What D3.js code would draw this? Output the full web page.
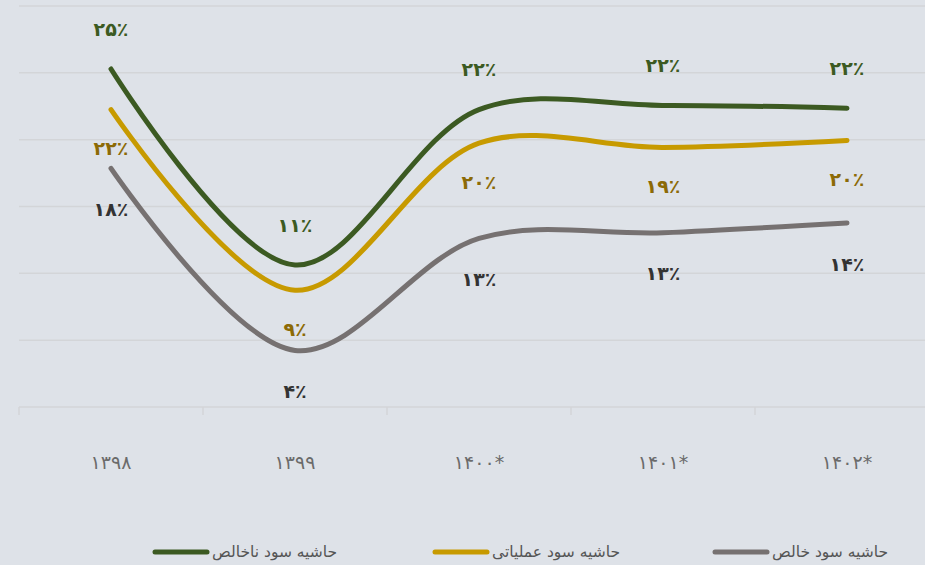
<!DOCTYPE html>
<html lang="fa">
<head>
<meta charset="utf-8">
<script src="https://d3js.org/d3.v7.min.js"></script>
<style>
  body { margin: 0; background: #dee2e8; }
  svg { display: block; }
  .grid line { stroke: #d3d5d8; stroke-width: 1.5px; }
  .xlab { font-family: "DejaVu Sans", sans-serif; font-size: 19px; fill: #6b6b6b; }
  .vlab { font-family: "DejaVu Sans", sans-serif; font-size: 19px; font-weight: bold; }
  .leg text { font-family: "DejaVu Sans", sans-serif; font-size: 15.5px; fill: #555; }
</style>
</head>
<body>
<div id="chart"></div>
<script>
// categories (years, Persian digits)
var years = ["۱۳۹۸", "۱۳۹۹", "۱۴۰۰*", "۱۴۰۱*", "۱۴۰۲*"];

// series values (percent)
var gross     = [25.0, 11.0, 22.1, 22.4, 22.2];
var operating = [22.1,  9.2, 19.7, 19.4, 19.9];
var net       = [17.9,  4.9, 12.9, 13.3, 14.0];

// data labels as printed on the chart
var grossLabels     = ["۲۵٪", "۱۱٪", "۲۲٪", "۲۲٪", "۲۲٪"];
var operatingLabels = ["۲۲٪", "۹٪", "۲۰٪", "۱۹٪", "۲۰٪"];
var netLabels       = ["۱۸٪", "۴٪", "۱۳٪", "۱۳٪", "۱۴٪"];

var seriesNames = ["حاشیه سود ناخالص", "حاشیه سود عملیاتی", "حاشیه سود خالص"];

var series = [
  {name: seriesNames[0], values: gross,     labels: grossLabels,     color: "#3c5a22", text: "#3c5a22", dy: -40},
  {name: seriesNames[1], values: operating, labels: operatingLabels, color: "#c79a00", text: "#8c6a06", dy: 39},
  {name: seriesNames[2], values: net,       labels: netLabels,       color: "#767171", text: "#333333", dy: 41}
];

var W = 925, H = 565;
var svg = d3.select("#chart").append("svg").attr("width", W).attr("height", H);

var x = d3.scaleBand().domain(years).range([19, 939]);
var y = d3.scaleLinear().domain([0.857, 29.5]).range([407, 6]);

// gridlines: six equal steps
var yMin = y.domain()[0], yMax = y.domain()[1];
var gridVals = d3.range(7).map(function(i){ return yMin + i * (yMax - yMin) / 6; });

var grid = svg.append("g").attr("class", "grid");
grid.selectAll("line").data(gridVals).enter().append("line")
  .attr("x1", 19).attr("x2", W)
  .attr("y1", function(d){ return y(d); })
  .attr("y2", function(d){ return y(d); });

// category boundary ticks
grid.selectAll(".tk").data(years).enter().append("line").attr("class", "tk")
  .attr("x1", function(d){ return x(d); })
  .attr("x2", function(d){ return x(d); })
  .attr("y1", y(yMin)).attr("y2", y(yMin) + 8);

// x labels
svg.selectAll(".xlab").data(years).enter().append("text").attr("class", "xlab")
  .attr("x", function(d){ return x(d) + x.bandwidth() / 2; })
  .attr("y", 469)
  .attr("text-anchor", "middle")
  .style("letter-spacing", "3px")
  .text(function(d){ return d; });

var line = d3.line()
  .x(function(d, i){ return x(years[i]) + x.bandwidth() / 2; })
  .y(function(d){ return y(d); })
  .curve(d3.curveCatmullRom.alpha(0.5));

series.forEach(function(s){
  svg.append("path")
    .attr("d", line(s.values))
    .attr("fill", "none")
    .attr("stroke", s.color)
    .attr("stroke-width", 5)
    .attr("stroke-linecap", "round");
});

series.forEach(function(s){
  svg.selectAll(null).data(s.values).enter().append("text").attr("class", "vlab")
    .attr("x", function(d, i){ return x(years[i]) + x.bandwidth() / 2; })
    .attr("y", function(d){ return y(d) + s.dy; })
    .attr("dy", "0.35em")
    .attr("text-anchor", "middle")
    .attr("fill", s.text)
    .text(function(d, i){ return s.labels[i]; });
});

// legend
var leg = svg.append("g").attr("class", "leg");
var items = leg.selectAll("g").data(series).enter().append("g")
  .attr("transform", function(d, i){ return "translate(" + (153 + i * 280) + ",552)"; });
items.append("line")
  .attr("x1", 2).attr("x2", 54).attr("y1", 0).attr("y2", 0)
  .attr("stroke", function(d){ return d.color; })
  .attr("stroke-width", 5)
  .attr("stroke-linecap", "round");
items.append("text")
  .attr("x", 59).attr("y", 0).attr("dy", "0.35em")
  .attr("direction", "rtl")
  .attr("text-anchor", "end")
  .text(function(d){ return d.name; });
</script>
</body>
</html>
